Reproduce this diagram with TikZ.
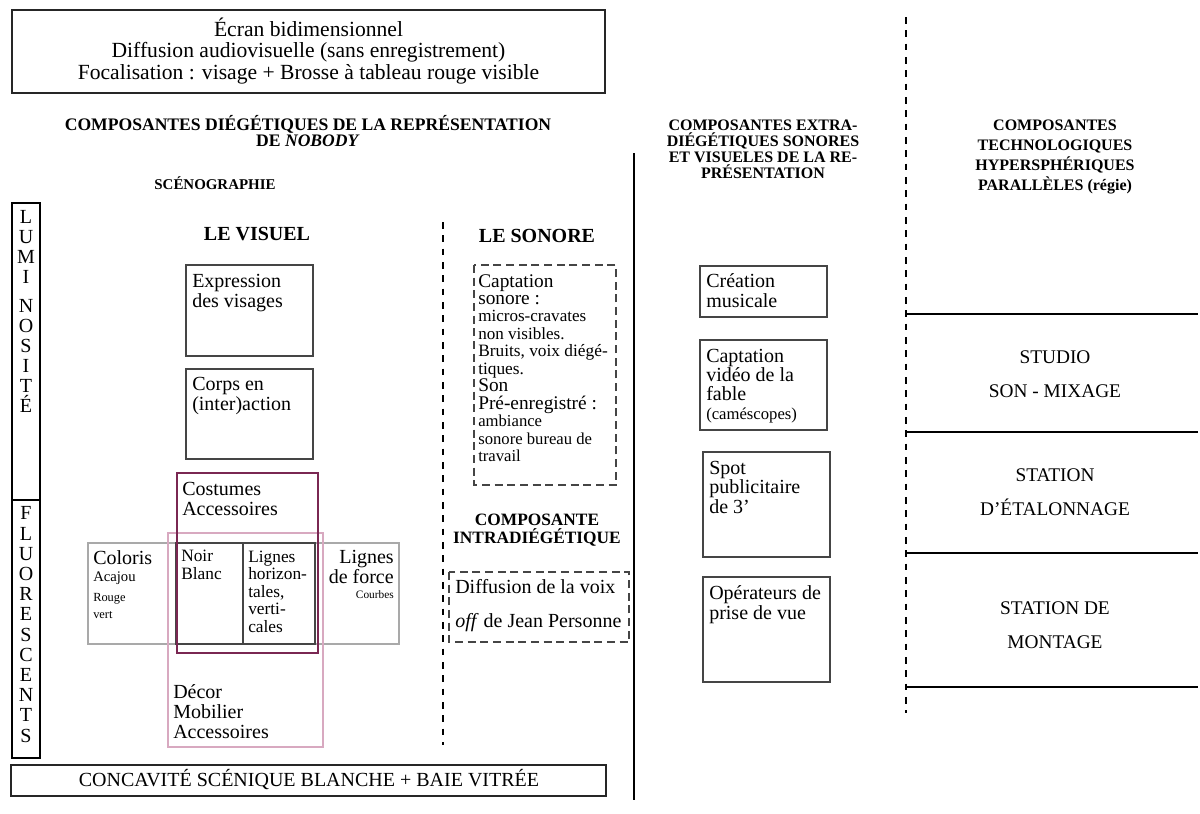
\documentclass[tikz,border=0pt]{standalone}
\usepackage{fontspec}
\setmainfont{Liberation Serif}
\definecolor{bx}{HTML}{454545}
\definecolor{plum}{HTML}{7A2752}
\definecolor{rosy}{HTML}{D8A9C0}
\definecolor{lgray}{HTML}{A9A9A9}
\newcommand\fz[2]{\fontsize{#1}{#2}\selectfont}
\begin{document}
\begin{tikzpicture}[x=0.75pt,y=-0.75pt,
  box/.style={draw=bx,line width=1.5pt},
  dbox/.style={draw=bx,line width=1.5pt,dash pattern=on 6pt off 3.5pt},
  vdash/.style={draw=black,line width=1.2pt,dash pattern=on 5pt off 5pt},
  hline/.style={draw=black,line width=1.6pt},
  txt/.style={inner sep=0pt,align=left,anchor=base west},
  ctxt/.style={inner sep=0pt,align=center,anchor=base},
  rtxt/.style={inner sep=0pt,align=right,anchor=base east},
]
\useasboundingbox (0,0) rectangle (1200,814);
% NB: for multi-line nodes the base anchor is the baseline of the LAST line

% top box
\draw[box,draw=black!85] (12,10) rectangle (605,93);
\node[ctxt,font=\fz{16.2}{16.1}] (ecran) at (308.5,79) {Écran bidimensionnel\\Diffusion audiovisuelle (sans enregistrement)\\Focalisation : visage + Brosse à tableau rouge visible};

% headings
\node[ctxt,font=\bfseries\fz{13.2}{12}] (h1) at (308,146) {COMPOSANTES DIÉGÉTIQUES DE LA REPRÉSENTATION\\DE \textit{NOBODY}};
\node[ctxt,font=\bfseries\fz{11.2}{12}] (sceno) at (215,189) {SCÉNOGRAPHIE};
\node[ctxt,font=\bfseries\fz{15}{15}] (visuel) at (257,240) {LE VISUEL};
\node[ctxt,font=\bfseries\fz{15}{15}] (sonore) at (537,242) {LE SONORE};
\node[ctxt,font=\bfseries\fz{13}{13.5}] (intra) at (537,543) {COMPOSANTE\\INTRADIÉGÉTIQUE};
\node[ctxt,font=\bfseries\fz{12}{12}] (extra) at (763,178) {COMPOSANTES EXTRA-\\DIÉGÉTIQUES SONORES\\ET VISUELES DE LA RE-\\PRÉSENTATION};
\node[ctxt,font=\bfseries\fz{12}{15}] (techno) at (1055,190) {COMPOSANTES\\TECHNOLOGIQUES\\HYPERSPHÉRIQUES\\PARALLÈLES (régie)};

% luminosite / fluorescents
\draw[black,line width=0.8pt] (12,203) rectangle (40,500);
\draw[black,line width=0.8pt] (12,500) rectangle (40,758);
\node[ctxt,font=\fz{15}{15}] (lumi) at (26,412) {L\\U\\M\\I\\[6.75pt]N\\O\\S\\I\\T\\É};
\node[ctxt,font=\fz{15}{15.15}] (fluo) at (26,742) {F\\L\\U\\O\\R\\E\\S\\C\\E\\N\\T\\S};

% visuel boxes
\draw[box] (186,265) rectangle (313,356);
\node[txt,font=\fz{15}{15}] (expr) at (192,307) {Expression\\des visages};
\draw[box] (186,369) rectangle (313,459);
\node[txt,font=\fz{15}{15}] (corps) at (192,410) {Corps en\\(inter)action};

\draw[lgray,line width=1.5pt] (88,543) rectangle (399,644);
\draw[rosy,line width=1.5pt] (168,533) rectangle (323,747);
\draw[box] (176,543) rectangle (315,644);
\draw[box] (243,543) -- (243,644);
\draw[plum,line width=1.5pt] (177,473) rectangle (318,653);

\node[txt,font=\fz{15}{15}] (cost) at (182,515) {Costumes\\Accessoires};
\node[txt,font=\fz{15}{15}] (coloris) at (93,564) {Coloris};
\node[txt,font=\fz{11}{11}] (acajou) at (93,581) {Acajou};
\node[txt,font=\fz{9.3}{12.75}] (rouge) at (93,618) {Rouge\\vert};
\node[txt,font=\fz{13}{13.3}] (noir) at (181,579.7) {Noir\\Blanc};
\node[txt,font=\fz{13}{13.1}] (lignes) at (248,632) {Lignes\\horizon-\\tales,\\verti-\\cales};
\node[rtxt,font=\fz{15}{14.3}] (force) at (394,583) {Lignes\\de force};
\node[rtxt,font=\fz{8.5}{8.5}] (courbes) at (394,598) {Courbes};
\node[txt,font=\fz{15}{15}] (decor) at (173,738) {Décor\\Mobilier\\Accessoires};

% sonore
\draw[vdash] (443,222) -- (443,745);
\draw[dbox] (474,265) rectangle (616,485);
\node[txt,font=\fz{14.5}{13.1}] (capt) at (478,461.7) {Captation\\sonore :\\\fz{12.8}{13}micros-cravates\\\fz{12.8}{13}non visibles.\\\fz{13}{13}Bruits, voix diégé-\\\fz{13}{13}tiques.\\Son\\Pré-enregistré :\\\fz{12.5}{13}ambiance\\\fz{12.5}{13}sonore bureau de\\\fz{12.5}{13}travail};
\draw[dbox] (449,572) rectangle (629,642);
\node[txt,font=\fz{15}{25.5}] (diff) at (455,627) {Diffusion de la voix\\\textit{off} de Jean Personne};

% extra-diegetic column
\draw[black,line width=1.5pt] (634,153) -- (634,800);
\draw[box] (700,266) rectangle (827,317);
\node[txt,font=\fz{15}{15}] (crea) at (706,307) {Création\\musicale};
\draw[box] (700,340) rectangle (827,430);
\node[txt,font=\fz{15}{14.3}] (video) at (706,419.2) {Captation\\vidéo de la\\fable\\\fz{12.5}{13}(caméscopes)};
\draw[box] (703,452) rectangle (830,557);
\node[txt,font=\fz{15}{14.3}] (spot) at (709,513) {Spot\\publicitaire\\de 3’};
\draw[box] (703,577) rectangle (830,682);
\node[txt,font=\fz{15}{14.3}] (oper) at (709,619) {Opérateurs de\\prise de vue};

% regie column
\draw[vdash] (906,17) -- (906,713);
\draw[hline] (906,314) -- (1198,314);
\draw[hline] (906,432) -- (1198,432);
\draw[hline] (906,553) -- (1198,553);
\draw[hline] (906,687) -- (1198,687);
\node[ctxt,font=\fz{14.5}{25.5}] (studio) at (1055,397) {STUDIO\\SON - MIXAGE};
\node[ctxt,font=\fz{14.5}{25}] (etal) at (1055,515.3) {STATION\\D’ÉTALONNAGE};
\node[ctxt,font=\fz{14.5}{25}] (mont) at (1055,648.3) {STATION DE\\MONTAGE};

% bottom box
\draw[box,draw=black!85] (11,765) rectangle (606,796);
\node[ctxt,font=\fz{15}{15}] (concav) at (309,786) {CONCAVITÉ SCÉNIQUE BLANCHE + BAIE VITRÉE};
\end{tikzpicture}
\end{document}
